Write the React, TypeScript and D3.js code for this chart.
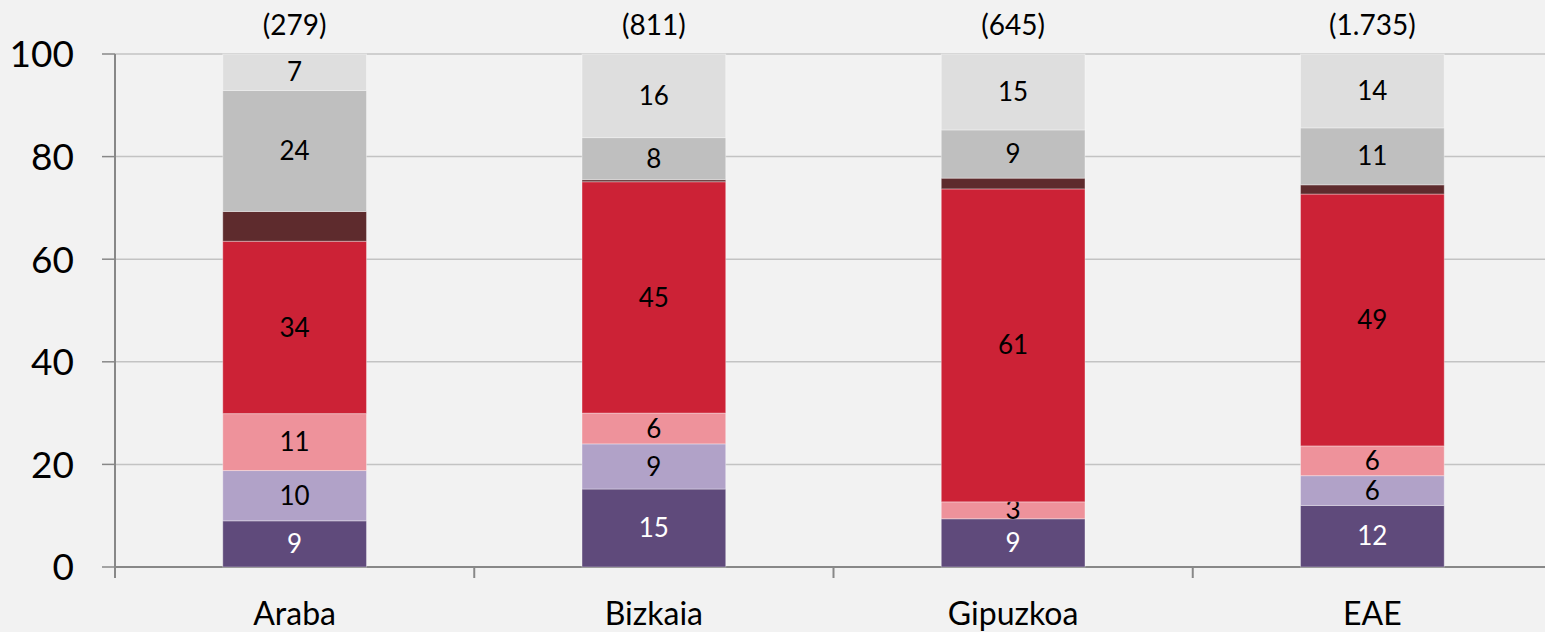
import React from "react";
import * as d3 from "d3";

const categories = ["Araba", "Bizkaia", "Gipuzkoa", "EAE"];
const totals = ["(279)", "(811)", "(645)", "(1.735)"];
const seriesNames = ["s1", "s2", "s3", "s4", "s5", "s6", "s7"];
const seriesColors = ["#5f4a7b", "#b1a2c8", "#ee929b", "#cc2236", "#5e2b2d", "#bfbfbf", "#dedede"];
const labelColors = ["#ffffff", "#000", "#000", "#000", null, "#000", "#000"];
// values per category, bottom to top
const araba = [9.0, 9.8, 11.1, 33.6, 5.8, 23.6, 7.1];
const bizkaia = [15.2, 8.8, 6.0, 45.1, 0.4, 8.2, 16.3];
const gipuzkoa = [9.4, 0, 3.3, 61.0, 2.1, 9.4, 14.8];
const eae = [12.0, 5.8, 5.8, 49.1, 1.8, 11.1, 14.4];
const yTicks = [0, 20, 40, 60, 80, 100];

const width = 1545,
  height = 632;
const margin = { left: 115, right: -7, top: 54, bottom: 65 };

export default function App() {
  const rows = [araba, bizkaia, gipuzkoa, eae];
  const data = categories.map((c, i) => {
    const o: any = { cat: c };
    seriesNames.forEach((s, j) => (o[s] = rows[i][j]));
    return o;
  });
  const stacked = d3.stack().keys(seriesNames)(data);

  const x = d3
    .scaleBand()
    .domain(categories)
    .range([margin.left, width - margin.right])
    .paddingInner(0.6)
    .paddingOuter(0.3);
  const y = d3
    .scaleLinear()
    .domain([0, 100])
    .range([height - margin.bottom, margin.top]);

  const step = x.step();
  const font = "Lato, 'Open Sans', sans-serif";

  return (
    <svg
      width={width}
      height={height}
      style={{ position: "absolute", left: 0, top: 0, background: "#f2f2f2", fontFamily: font }}
    >
      <rect width={width} height={height} fill="#f2f2f2" />
      {yTicks.map((t) => (
        <g key={t}>
          {t > 0 && (
            <line x1={margin.left} x2={width} y1={y(t)} y2={y(t)} stroke="#c3c3c3" strokeWidth={1.5} />
          )}
          <line x1={margin.left - 13} x2={margin.left} y1={y(t)} y2={y(t)} stroke="#888" strokeWidth={1.5} />
          <text x={74} y={y(t)} dy="0.36em" textAnchor="end" fontSize={37} fill="#000">
            {t}
          </text>
        </g>
      ))}
      <line x1={margin.left} x2={margin.left} y1={y(100)} y2={y(0) + 11} stroke="#888" strokeWidth={2} />
      <line x1={margin.left} x2={width} y1={y(0)} y2={y(0)} stroke="#888" strokeWidth={2} />
      {categories.map((c, i) =>
        i > 0 ? (
          <line
            key={c}
            x1={margin.left + step * i}
            x2={margin.left + step * i}
            y1={y(0)}
            y2={y(0) + 11}
            stroke="#888"
            strokeWidth={2}
          />
        ) : null
      )}
      {stacked.map((layer, si) => (
        <g key={layer.key}>
          {layer.map((d: any, ci) => {
            const h = y(d[0]) - y(d[1]);
            if (h <= 0) return null;
            return (
              <rect
                key={ci}
                x={x(categories[ci])}
                y={y(d[1])}
                width={x.bandwidth()}
                height={h}
                fill={seriesColors[si]}
                stroke="rgba(255,255,255,0.35)"
                strokeWidth={1}
              />
            );
          })}
          {layer.map((d: any, ci) => {
            const v = d[1] - d[0];
            if (!labelColors[si] || v < 1) return null;
            return (
              <text
                key={"t" + ci}
                x={(x(categories[ci]) as number) + x.bandwidth() / 2}
                y={y((d[0] + d[1]) / 2)}
                dy="0.35em"
                textAnchor="middle"
                fontSize={26}
                fill={labelColors[si] as string}
              >
                {Math.round(v)}
              </text>
            );
          })}
        </g>
      ))}
      {categories.map((c, i) => (
        <g key={c}>
          <text
            x={(x(c) as number) + x.bandwidth() / 2}
            y={625}
            textAnchor="middle"
            fontSize={32}
            fill="#000"
          >
            {c}
          </text>
          <text
            x={(x(c) as number) + x.bandwidth() / 2}
            y={35}
            textAnchor="middle"
            fontSize={28}
            fill="#000"
          >
            {totals[i]}
          </text>
        </g>
      ))}
    </svg>
  );
}
